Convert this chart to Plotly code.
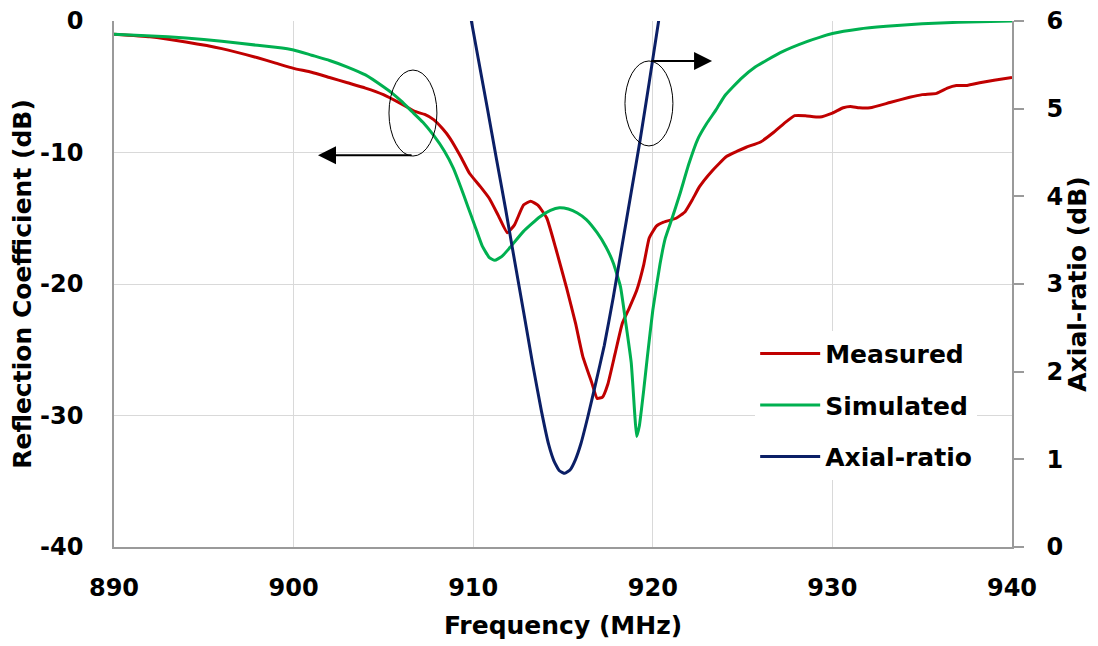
import plotly.graph_objects as go

# Measured reflection coefficient (dB)
freq_meas = [890, 892, 894, 896, 898, 899, 900, 901, 902, 903, 904, 905, 906, 906.8, 907.3,
             907.8, 908.3, 908.7, 909.3, 909.8, 910.4, 910.9, 911.4, 911.9, 912.3, 912.8,
             913.2, 913.6, 914.1, 914.6, 915.2, 915.7, 916.1, 916.6, 916.9, 917.2, 917.5,
             917.9, 918.3, 918.7, 919.1, 919.5, 919.8, 920.2, 920.6, 921.3, 921.8, 922.2,
             922.6, 923.3, 924.1, 924.7, 925.2, 926.0, 926.7, 927.3, 927.9, 928.5, 929.3,
             930.0, 930.6, 931.0, 931.5, 932.1, 933.2, 934.3, 935.0, 935.8, 936.4, 936.9,
             937.5, 938.2, 939.0, 940]
meas_db = [-1.0, -1.2, -1.6, -2.1, -2.8, -3.2, -3.6, -3.9, -4.3, -4.7, -5.1, -5.6, -6.3, -6.9, -7.1,
           -7.5, -8.2, -8.9, -10.3, -11.6, -12.6, -13.5, -14.8, -16.1, -15.5, -14.0,
           -13.7, -14.0, -15.0, -17.3, -20.3, -23.0, -25.5, -27.5, -28.7, -28.6, -27.6,
           -25.3, -23.0, -21.8, -20.5, -18.5, -16.5, -15.6, -15.3, -15.0, -14.5, -13.6,
           -12.6, -11.4, -10.3, -9.9, -9.6, -9.2, -8.5, -7.8, -7.2, -7.2, -7.3,
           -7.0, -6.6, -6.5, -6.6, -6.6, -6.2, -5.8, -5.6, -5.5, -5.1, -4.9,
           -4.9, -4.7, -4.5, -4.3]

# Simulated reflection coefficient (dB)
freq_sim = [890, 893, 895, 897, 899, 900, 901, 902, 903, 904, 905, 905.5, 906, 906.6, 907.2,
            907.8, 908.4, 908.9, 909.3, 909.7, 910.1, 910.5, 910.9, 911.2, 911.6, 912.0,
            912.8, 913.7, 914.3, 914.8, 915.3, 915.8, 916.3, 916.9, 917.4, 917.8, 918.2,
            918.5, 918.8, 919.0, 919.1, 919.25, 919.5, 919.7, 920.0, 920.4, 920.7, 921.05,
            921.5, 922.0, 922.5, 923.0, 923.5, 924.0, 924.9, 925.7, 927.1, 928.5, 930.0,
            931.5, 933.0, 935.0, 937.0, 940.0]
sim_db = [-1.0, -1.2, -1.4, -1.7, -2.0, -2.2, -2.6, -3.0, -3.5, -4.1, -5.0, -5.5, -6.1, -6.9, -7.7,
          -8.7, -9.9, -11.2, -12.6, -14.1, -15.6, -17.1, -18.0, -18.2, -17.9, -17.3,
          -16.0, -14.9, -14.4, -14.2, -14.3, -14.6, -15.1, -16.1, -17.2, -18.4, -20.2,
          -23.0, -26.0, -30.0, -31.6, -30.8, -28.0, -25.5, -22.0, -18.5, -16.5, -15.1,
          -13.2, -10.9, -9.0, -7.8, -6.8, -5.7, -4.4, -3.5, -2.4, -1.6, -0.95,
          -0.6, -0.4, -0.2, -0.1, 0.0]

# Axial ratio (dB)
freq_ar = [909.8, 910.3, 910.8, 911.3, 911.8, 912.3, 912.8, 913.3, 913.8, 914.2, 914.5, 914.8,
           915.1, 915.4, 915.7, 916.0, 916.4, 916.8, 917.3, 917.8, 918.3, 918.8, 919.3, 919.8, 920.4]
ar_db = [6.11, 5.55, 4.99, 4.42, 3.86, 3.27, 2.69, 2.10, 1.55, 1.17, 0.98, 0.87,
         0.84, 0.88, 1.0, 1.18, 1.5, 1.85, 2.3, 2.85, 3.45, 4.05, 4.65, 5.3, 6.1]

x_ticks = [890, 900, 910, 920, 930, 940]
y_ticks = [-40, -30, -20, -10, 0]
y_tick_text = ["-40", "-30", "-20", "-10", "0"]
y2_ticks = [0, 1, 2, 3, 4, 5, 6]

FONT = "DejaVu Sans"
RED = "#c00000"
GREEN = "#00b050"
NAVY = "#0b1f66"
AXC = "#9a9a9a"

fig = go.Figure()
fig.add_trace(go.Scatter(x=freq_meas, y=meas_db, name="Measured", mode="lines",
                         line=dict(color=RED, width=3, shape="spline", smoothing=0.4),
                         legendgroup="a"))
fig.add_trace(go.Scatter(x=freq_sim, y=sim_db, name="Simulated", mode="lines",
                         line=dict(color=GREEN, width=3, shape="spline", smoothing=0.4),
                         legendgroup="b"))
fig.add_trace(go.Scatter(x=freq_ar, y=ar_db, name="Axial-ratio", mode="lines", yaxis="y2",
                         line=dict(color=NAVY, width=3, shape="spline", smoothing=0.4),
                         legendgroup="c"))

# The page body adds an 8px margin, so the figure is sized and offset to compensate.
fig.update_layout(
    width=1090, height=638,
    margin=dict(l=106, r=86, t=13, b=99),
    paper_bgcolor="white", plot_bgcolor="white",
    font=dict(family=FONT, color="black", size=24, weight="bold"),
    xaxis=dict(range=[890, 940], tickvals=x_ticks, showgrid=True, gridcolor="#d9d9d9",
               showline=True, linecolor=AXC, linewidth=1.5, zeroline=False,
               ticks="", ticklabelstandoff=18, automargin=False, ticklabeloverflow="allow",
               tickfont=dict(family=FONT, size=24, weight="bold"),
               title=dict(text="Frequency (MHz)", standoff=16,
                          font=dict(family=FONT, size=25, weight="bold"))),
    yaxis=dict(range=[-40, 0], tickvals=y_ticks, ticktext=y_tick_text, showgrid=True,
               gridcolor="#d9d9d9",
               showline=True, linecolor=AXC, linewidth=1.5, zeroline=False,
               ticks="", ticklabelstandoff=24, automargin=False, ticklabeloverflow="allow",
               tickfont=dict(family=FONT, size=24, weight="bold"),
               title=dict(text="Reflection Coefficient (dB)", standoff=8,
                          font=dict(family=FONT, size=25, weight="bold"))),
    yaxis2=dict(range=[0, 6], tickvals=y2_ticks, overlaying="y", side="right", showgrid=False,
                showline=True, linecolor=AXC, linewidth=1.5, zeroline=False,
                ticks="outside", ticklen=10, tickcolor=AXC, tickwidth=1.5,
                ticklabelstandoff=18, automargin=False, ticklabeloverflow="allow",
                tickfont=dict(family=FONT, size=24, weight="bold"),
                title=dict(text="Axial-ratio (dB)", standoff=6,
                           font=dict(family=FONT, size=25, weight="bold"))),
    legend=dict(x=0.714, y=0.411, xanchor="left", yanchor="top",
                bgcolor="white", borderwidth=0, itemwidth=60,
                tracegroupgap=16, traceorder="grouped",
                font=dict(family=FONT, size=25, weight="bold")),
    showlegend=True,
)

# Ellipses marking the curves that belong to each axis
fig.add_shape(type="circle", xref="x", yref="y", x0=905.31, x1=907.98, y0=-10.27, y1=-3.73,
              line=dict(color="black", width=1))
fig.add_shape(type="circle", xref="x", yref="y", x0=918.45, x1=921.12, y0=-9.5, y1=-3.04,
              line=dict(color="black", width=1))

# Arrows pointing to the relevant axis
fig.add_annotation(x=901.36, y=-10.2, ax=906.65, ay=-10.2, xref="x", yref="y",
                   axref="x", ayref="y", text="", showarrow=True,
                   arrowhead=2, arrowsize=1.8, arrowwidth=2, arrowcolor="black")
fig.add_annotation(x=923.3, y=-3.04, ax=919.84, ay=-3.04, xref="x", yref="y",
                   axref="x", ayref="y", text="", showarrow=True,
                   arrowhead=2, arrowsize=1.8, arrowwidth=2, arrowcolor="black")

fig.write_html("out.html")
